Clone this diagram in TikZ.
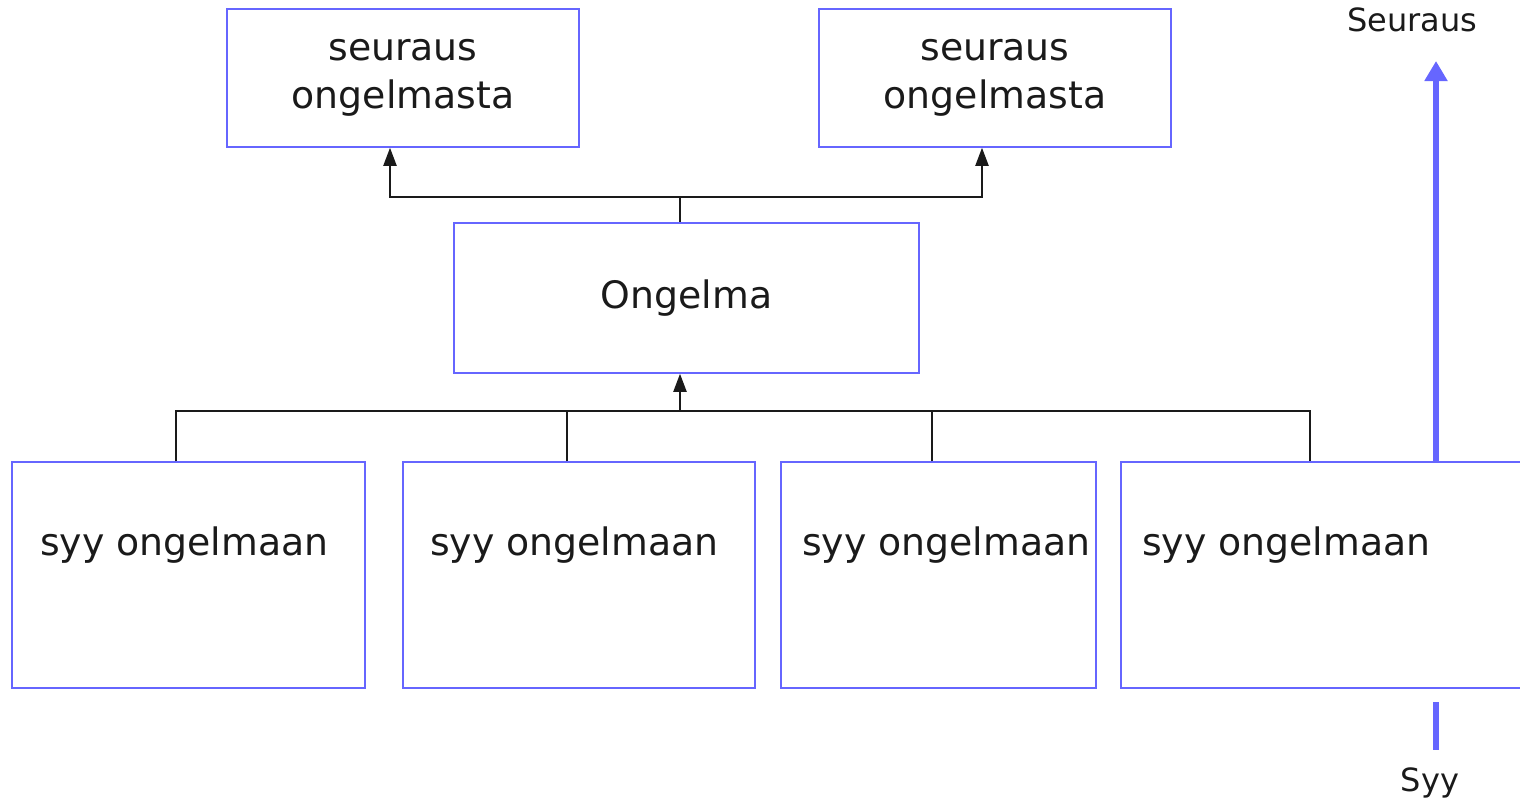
\documentclass[tikz,border=0pt]{standalone}
\usepackage{fontspec}
\setmainfont{DejaVu Sans}
\usetikzlibrary{arrows.meta}
\definecolor{boxblue}{HTML}{6666FF}
\definecolor{ink}{HTML}{1A1A1A}
\begin{document}
\begin{tikzpicture}[x=1pt,y=-1pt,
  box/.style={draw=boxblue, line width=1.5pt, inner sep=0pt},
  big/.style={font=\fontsize{37.8}{48}\selectfont, text=ink, align=center},
  small/.style={font=\fontsize{32}{38}\selectfont, text=ink, inner sep=0pt},
  conn/.style={draw=ink, line width=2pt},
  arr/.style={conn, -{Triangle[length=18pt,width=13pt]}},
  bluearr/.style={draw=boxblue, line width=6pt},
]
\useasboundingbox (0,0) rectangle (1520,800);
% top boxes
\node[box, big, minimum width=352pt, minimum height=138pt] (c1) at (403,78) {seuraus\\ongelmasta};
\node[box, big, minimum width=352pt, minimum height=138pt] (c2) at (995,78) {seuraus\\ongelmasta};
% problem
\node[box, big, minimum width=465pt, minimum height=150pt] (on) at (686.5,298) {Ongelma};
% cause boxes
\node[box, minimum width=353pt, minimum height=226pt] (s1) at (188.5,575) {};
\node[box, minimum width=352pt, minimum height=226pt] (s2) at (579,575) {};
\node[box, minimum width=315pt, minimum height=226pt] (s3) at (938.5,575) {};
\node[box, minimum width=404pt, minimum height=226pt] (s4) at (1323,575) {};
\node[big, inner sep=0pt, anchor=base west] (t1) at (40,555) {syy ongelmaan};
\node[big, inner sep=0pt, anchor=base west] (t2) at (430,555) {syy ongelmaan};
\node[big, inner sep=0pt, anchor=base west] (t3) at (802,555) {syy ongelmaan};
\node[big, inner sep=0pt, anchor=base west] (t4) at (1142,555) {syy ongelmaan};
% top connectors
\coordinate (tj) at (680,197);
\draw[conn] (tj) -- (tj |- on.north);
\draw[arr] (tj) -| ([xshift=-13pt]c1.south);
\draw[arr] (tj) -| ([xshift=-13pt]c2.south);
% bottom connectors
\coordinate (bj) at (680,411);
\draw[arr] (bj) -- (bj |- on.south);
\draw[conn] ([xshift=-12.5pt]s1.north) |- (bj) -| ([xshift=-13pt]s4.north);
\draw[conn] ([xshift=-12pt]s2.north) -- ([xshift=-12pt]s2.north |- bj);
\draw[conn] ([xshift=-6.5pt]s3.north) -- ([xshift=-6.5pt]s3.north |- bj);
% legend arrow
\coordinate (ua) at (1436,61);
\coordinate (ub) at (1436,702);
\coordinate (uc) at (1436,750);
\draw[bluearr, -{Triangle[length=20pt,width=22pt]}] (ua |- s4.north) -- (ua);
\draw[bluearr] (ub) -- (uc);
\node[small, anchor=base] (seur) at (1412,32) {Seuraus};
\node[small, anchor=base] (syy) at (1430,791) {Syy};
\end{tikzpicture}
\end{document}
